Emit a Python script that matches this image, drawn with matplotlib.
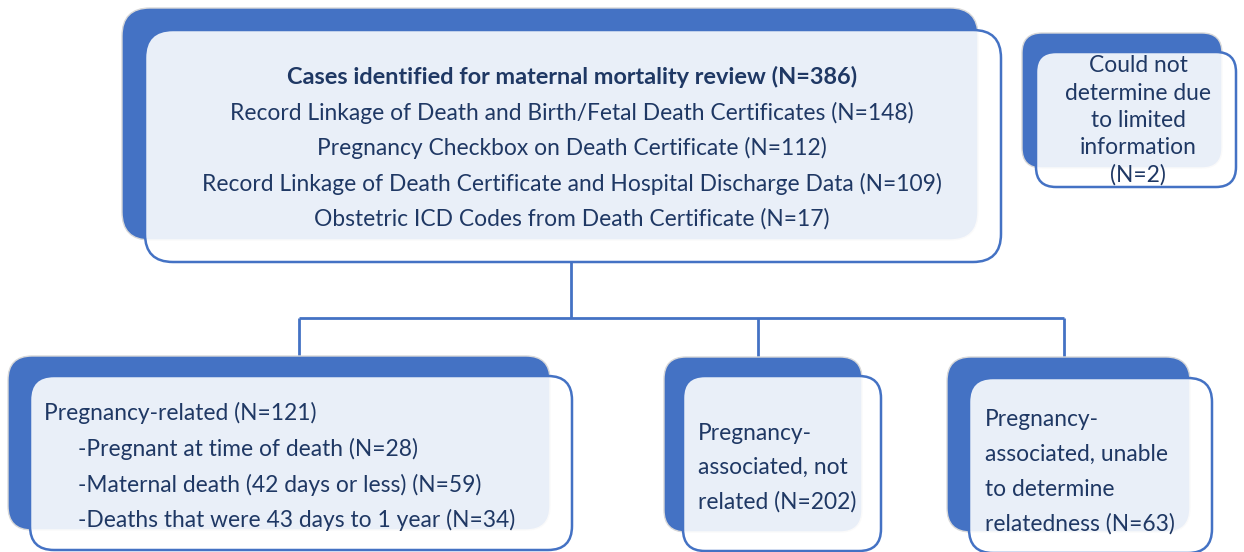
import matplotlib.pyplot as plt
from matplotlib.patches import FancyBboxPatch

# node text
top_title = "Cases identified for maternal mortality review"
top_n = 386
top_sources = [
    "Record Linkage of Death and Birth/Fetal Death Certificates",
    "Pregnancy Checkbox on Death Certificate",
    "Record Linkage of Death Certificate and Hospital Discharge Data",
    "Obstetric ICD Codes from Death Certificate",
]
top_source_n = [148, 112, 109, 17]

side_lines = ["Could not", "determine due", "to limited", "information"]
side_n = 2

related_title = "Pregnancy-related"
related_n = 121
related_subs = [
    "Pregnant at time of death",
    "Maternal death (42 days or less)",
    "Deaths that were 43 days to 1 year",
]
related_sub_n = [28, 59, 34]

not_related_lines = ["Pregnancy-", "associated, not", "related"]
not_related_n = 202

unable_lines = ["Pregnancy-", "associated, unable", "to determine", "relatedness"]
unable_n = 63

BLUE = "#4472C4"
TEXT = "#1F3864"
FONT = ["Lato", "DejaVu Sans"]

fig = plt.figure(figsize=(12.44, 5.52), dpi=100)
ax = fig.add_axes([0, 0, 1, 1])
ax.set_xlim(0, 1244)
ax.set_ylim(552, 0)
ax.axis("off")


def node(x0, y0, x1, y1, dx, dy, r):
    back = FancyBboxPatch((x0, y0), x1 - x0, y1 - y0,
                          boxstyle=f"round,pad=0,rounding_size={r}",
                          fc=BLUE, ec="#d9d9d9", lw=1, zorder=1)
    front = FancyBboxPatch((x0 + dx, y0 + dy), x1 - x0, y1 - y0,
                           boxstyle=f"round,pad=0,rounding_size={r}",
                           fc=(1, 1, 1, 0.89), ec=BLUE, lw=1.8, zorder=2)
    ax.add_patch(back)
    ax.add_patch(front)


node(122, 8, 978, 240, 23, 22, 28)
node(1022, 33, 1222, 168, 14, 19, 20)
node(8, 356, 550, 530, 22, 20, 24)
node(664, 357, 862, 532, 19, 19, 22)
node(947, 357, 1190, 532, 22, 21, 24)

# connectors
kw = dict(color=BLUE, lw=2, zorder=0.5, solid_capstyle="butt")
ax.plot([571, 571], [262, 318], **kw)
ax.plot([299, 1064], [318, 318], **kw)
for xc in [299, 758, 1064]:
    ax.plot([xc, xc], [318, 357], **kw)

fs = 16.4
tkw = dict(color=TEXT, family=FONT, zorder=3, va="center")

ax.text(572, 77, f"{top_title} (N={top_n})", ha="center", fontweight="bold",
        fontsize=16.9, **tkw)
for i, (s, n) in enumerate(zip(top_sources, top_source_n)):
    ax.text(572, 113 + i * 35.3, f"{s} (N={n})", ha="center", fontsize=fs, **tkw)

for i, s in enumerate(side_lines + [f"(N={side_n})"]):
    ax.text(1138, 66 + i * 27.2, s, ha="center", fontsize=fs, **tkw)

ax.text(44, 413, f"{related_title} (N={related_n})", ha="left", fontsize=fs, **tkw)
for i, (s, n) in enumerate(zip(related_subs, related_sub_n)):
    ax.text(78, 449 + i * 35.5, f"-{s} (N={n})", ha="left", fontsize=fs, **tkw)

nr = not_related_lines[:-1] + [f"{not_related_lines[-1]} (N={not_related_n})"]
for i, s in enumerate(nr):
    ax.text(698, 433 + i * 34.5, s, ha="left", fontsize=fs, **tkw)

un = unable_lines[:-1] + [f"{unable_lines[-1]} (N={unable_n})"]
for i, s in enumerate(un):
    ax.text(985, 419 + i * 35, s, ha="left", fontsize=fs, **tkw)

fig.savefig("out.png", dpi=100)
